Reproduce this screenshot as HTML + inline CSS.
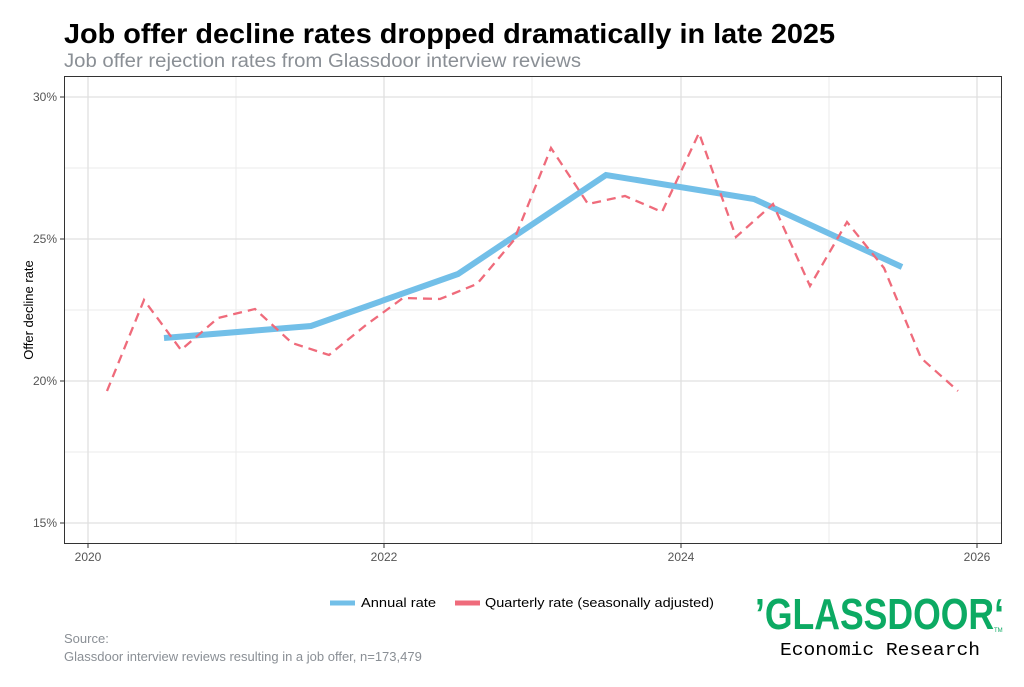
<!DOCTYPE html>
<html><head><meta charset="utf-8"><style>
body{margin:0;background:#fff;width:1024px;height:682px;overflow:hidden;font-family:"Liberation Sans",sans-serif}
</style></head><body>
<svg width="1024" height="682" xmlns="http://www.w3.org/2000/svg" font-family="Liberation Sans, sans-serif">
<text x="64" y="43" font-size="28" font-weight="bold" fill="#000" textLength="771" lengthAdjust="spacingAndGlyphs">Job offer decline rates dropped dramatically in late 2025</text>
<text x="64" y="67" font-size="19" fill="#8a8f95" textLength="517" lengthAdjust="spacingAndGlyphs">Job offer rejection rates from Glassdoor interview reviews</text>
<g stroke="#ebebeb" stroke-width="1">
<line x1="65" x2="1002" y1="168" y2="168"/><line x1="65" x2="1002" y1="310" y2="310"/><line x1="65" x2="1002" y1="452" y2="452"/>
<line x1="236" x2="236" y1="76" y2="543"/><line x1="532" x2="532" y1="76" y2="543"/><line x1="829" x2="829" y1="76" y2="543"/>
</g>
<g stroke="#e0e0e0" stroke-width="1.3">
<line x1="65" x2="1002" y1="97" y2="97"/><line x1="65" x2="1002" y1="239" y2="239"/><line x1="65" x2="1002" y1="381" y2="381"/><line x1="65" x2="1002" y1="523" y2="523"/>
<line x1="88" x2="88" y1="76" y2="543"/><line x1="384" x2="384" y1="76" y2="543"/><line x1="681" x2="681" y1="76" y2="543"/><line x1="977" x2="977" y1="76" y2="543"/>
</g>
<rect x="64.5" y="76.5" width="937" height="467" fill="none" stroke="#333" stroke-width="1"/>
<g stroke="#333"><line x1="60" x2="64" y1="97" y2="97"/><line x1="60" x2="64" y1="239" y2="239"/><line x1="60" x2="64" y1="381" y2="381"/><line x1="60" x2="64" y1="523" y2="523"/>
<line x1="88" x2="88" y1="544" y2="548"/><line x1="384" x2="384" y1="544" y2="548"/><line x1="681" x2="681" y1="544" y2="548"/><line x1="977" x2="977" y1="544" y2="548"/></g>
<g font-size="12" fill="#555" text-anchor="end"><text x="57" y="101">30%</text><text x="57" y="243">25%</text><text x="57" y="385">20%</text><text x="57" y="527">15%</text></g>
<g font-size="12" fill="#555" text-anchor="middle"><text x="88" y="561">2020</text><text x="384" y="561">2022</text><text x="681" y="561">2024</text><text x="977" y="561">2026</text></g>
<text transform="translate(33,310) rotate(-90)" font-size="13" text-anchor="middle" fill="#000">Offer decline rate</text>
<polyline fill="none" stroke="#72bfe8" stroke-width="6" points="164,338 311,326 458,274 606,175 754,199 902,267"/>
<polyline fill="none" stroke="#ef6b7b" stroke-width="2.3" stroke-dasharray="9,6" points="107,391 144,300 181,350 218,318 255,309 292,343 329,355 366,325 403,298 440,299 477,284 514,240 551,148 588,204 625,196 662,212 699,133 736,237 773,204 810,286 847,222 884,268 921,358 958,391"/>
<line x1="330" x2="355" y1="603" y2="603" stroke="#72bfe8" stroke-width="5"/>
<text x="361" y="607" font-size="13" fill="#000" textLength="75" lengthAdjust="spacingAndGlyphs">Annual rate</text>
<line x1="455" x2="480" y1="603" y2="603" stroke="#ef6b7b" stroke-width="5"/>
<text x="485" y="607" font-size="13" fill="#000" textLength="229" lengthAdjust="spacingAndGlyphs">Quarterly rate (seasonally adjusted)</text>
<text x="64" y="643" font-size="13" fill="#8a8f95">Source:</text>
<text x="64" y="661" font-size="13" fill="#8a8f95">Glassdoor interview reviews resulting in a job offer, n=173,479</text>
<text x="755" y="629" font-size="44" font-weight="bold" fill="#0caa63" textLength="249" lengthAdjust="spacingAndGlyphs">’GLASSDOOR‘</text>
<text x="994" y="632" font-size="6" fill="#0caa63">TM</text>
<text x="780" y="655" font-size="18" font-family="Liberation Mono, monospace" fill="#000" textLength="200" lengthAdjust="spacingAndGlyphs">Economic Research</text>
</svg>
</body></html>
